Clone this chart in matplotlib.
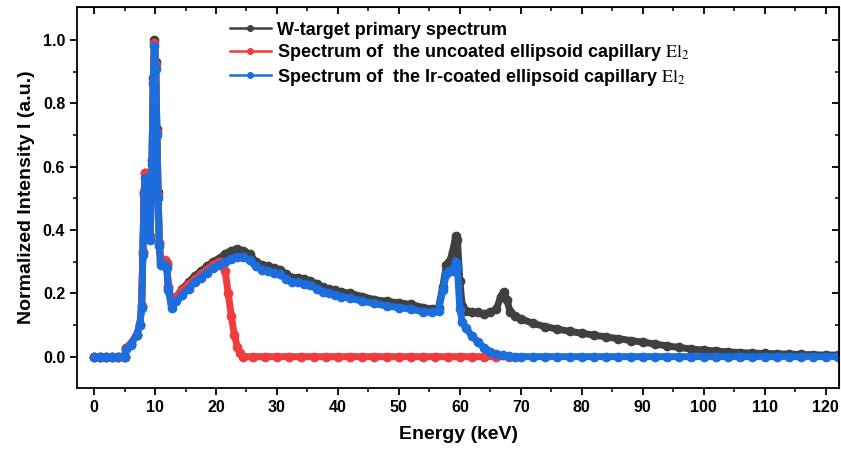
import matplotlib.pyplot as plt
from matplotlib.lines import Line2D

plt.rcParams['font.family'] = ['Liberation Sans', 'DejaVu Sans']
plt.rcParams['mathtext.fontset'] = 'stix'

# W-target primary spectrum
e_w = [0, 1, 2, 3, 4, 5, 5.2, 6, 7, 7.5,
       7.8, 8.0, 8.2, 8.4, 8.6, 8.9, 9.2, 9.5, 9.7, 9.9,
       10.1, 10.3, 10.5, 10.7, 10.9, 11.2, 11.6, 11.9, 12.2, 12.7,
       13.5, 14.5, 15.5, 16.5, 17.5, 18.5, 19.5, 20.5, 21.5, 22.5,
       23.5, 24.5, 25.5, 26.5, 27.5, 28.5, 29.5, 30.5, 31.5, 32.5,
       33.5, 34.5, 35.5, 36.5, 37.5, 38.5, 39.5, 40.5, 42, 44,
       46, 48, 50, 52, 54, 55.5, 56.5, 57.2, 57.8, 58.3,
       58.8, 59.3, 59.6, 60.0, 60.4, 61, 62, 63, 64, 65,
       66, 66.7, 67.2, 67.7, 68.3, 69, 70, 72, 74, 76,
       78, 80, 82, 84, 86, 88, 90, 92, 94, 96,
       98, 100, 102, 104, 106, 108, 110, 112, 114, 116,
       118, 120, 122]
i_w = [0, 0, 0, 0, 0, 0, 0.026, 0.04, 0.07, 0.10,
       0.16, 0.33, 0.52, 0.58, 0.55, 0.45, 0.38, 0.62, 0.88, 1.0,
       0.93, 0.72, 0.52, 0.36, 0.30, 0.30, 0.30, 0.29, 0.22, 0.17,
       0.19, 0.215, 0.235, 0.255, 0.27, 0.285, 0.30, 0.31, 0.325, 0.335,
       0.34, 0.335, 0.325, 0.30, 0.29, 0.285, 0.28, 0.275, 0.26, 0.25,
       0.25, 0.245, 0.24, 0.23, 0.22, 0.215, 0.21, 0.205, 0.20, 0.19,
       0.18, 0.175, 0.17, 0.165, 0.155, 0.15, 0.155, 0.22, 0.29, 0.30,
       0.33, 0.38, 0.37, 0.24, 0.16, 0.145, 0.14, 0.14, 0.135, 0.14,
       0.15, 0.19, 0.205, 0.18, 0.14, 0.13, 0.12, 0.105, 0.095, 0.087,
       0.08, 0.074, 0.068, 0.062, 0.057, 0.051, 0.046, 0.04, 0.034, 0.029,
       0.024, 0.021, 0.018, 0.015, 0.013, 0.011, 0.01, 0.009, 0.008, 0.007,
       0.006, 0.005, 0.005]

# uncoated ellipsoid capillary El2
e_un = [0, 1, 2, 3, 4, 5, 5.2, 6, 7, 7.5,
        7.8, 8.0, 8.2, 8.4, 8.6, 8.9, 9.2, 9.5, 9.7, 9.9,
        10.1, 10.3, 10.5, 10.7, 10.9, 11.2, 11.6, 11.9, 12.2, 12.7,
        13.5, 14.5, 15.5, 16.5, 17.5, 18.5, 19.5, 20.5, 21.0, 21.5,
        22.0, 22.5, 23.0, 23.5, 24.0, 24.5, 26, 28, 30, 32,
        34, 36, 38, 40, 42, 44, 46, 48, 50, 52,
        54, 56, 58, 60, 62, 64, 66, 68]
i_un = [0, 0, 0, 0, 0, 0, 0.026, 0.04, 0.07, 0.10,
        0.16, 0.33, 0.52, 0.58, 0.55, 0.45, 0.38, 0.62, 0.87, 0.99,
        0.92, 0.71, 0.51, 0.36, 0.305, 0.305, 0.305, 0.295, 0.22, 0.17,
        0.19, 0.21, 0.23, 0.245, 0.26, 0.275, 0.29, 0.30, 0.30, 0.27,
        0.20, 0.13, 0.07, 0.03, 0.01, 0, 0, 0, 0, 0,
        0, 0, 0, 0, 0, 0, 0, 0, 0, 0,
        0, 0, 0, 0, 0, 0, 0, 0]

# Ir-coated ellipsoid capillary El2
e_ir = [0, 1, 2, 3, 4, 5, 5.2, 6, 7, 7.5,
        7.8, 8.0, 8.2, 8.4, 8.6, 8.9, 9.2, 9.5, 9.7, 9.9,
        10.1, 10.3, 10.5, 10.7, 10.9, 11.2, 11.6, 11.9, 12.2, 12.7,
        13.5, 14.5, 15.5, 16.5, 17.5, 18.5, 19.5, 20.5, 21.5, 22.5,
        23.5, 24.5, 25.5, 26.5, 27.5, 28.5, 29.5, 30.5, 31.5, 32.5,
        33.5, 34.5, 35.5, 36.5, 37.5, 38.5, 39.5, 40.5, 42, 44,
        46, 48, 50, 52, 54, 55.5, 56.5, 57.2, 57.8, 58.3,
        58.8, 59.3, 59.6, 60.0, 60.4, 61, 62, 63, 64, 65,
        66, 67, 68, 69, 70, 72, 74, 76, 78, 80,
        82, 84, 86, 88, 90, 92, 94, 96, 98, 100,
        102, 104, 106, 108, 110, 112, 114, 116, 118, 120,
        122]
i_ir = [0, 0, 0, 0, 0, 0, 0.025, 0.038, 0.068, 0.10,
        0.155, 0.32, 0.51, 0.565, 0.54, 0.44, 0.37, 0.61, 0.86, 0.98,
        0.91, 0.70, 0.50, 0.35, 0.29, 0.29, 0.29, 0.28, 0.21, 0.155,
        0.175, 0.195, 0.215, 0.235, 0.25, 0.265, 0.28, 0.29, 0.30, 0.31,
        0.315, 0.315, 0.305, 0.285, 0.275, 0.27, 0.265, 0.26, 0.245, 0.235,
        0.235, 0.23, 0.225, 0.215, 0.205, 0.20, 0.195, 0.19, 0.185, 0.175,
        0.168, 0.16, 0.155, 0.15, 0.142, 0.14, 0.145, 0.21, 0.26, 0.27,
        0.27, 0.30, 0.28, 0.15, 0.11, 0.09, 0.065, 0.045, 0.028, 0.015,
        0.008, 0.004, 0.002, 0, 0, 0, 0, 0, 0, 0,
        0, 0, 0, 0, 0, 0, 0, 0, 0, 0,
        0, 0, 0, 0, 0, 0, 0, 0, 0, 0,
        0]

labels = ['W-target primary spectrum',
          r'Spectrum of  the uncoated ellipsoid capillary $\mathrm{El}_2$',
          r'Spectrum of  the Ir-coated ellipsoid capillary $\mathrm{El}_2$']
colors = ['#404040', '#f03c3c', '#1c6edc']

fig = plt.figure(figsize=(8.41, 4.59), dpi=100)
ax = fig.add_axes([0.0916, 0.154, 0.906, 0.831])

for e, i, c in zip([e_w, e_un, e_ir], [i_w, i_un, i_ir], colors):
    ax.plot(e, i, color=c, lw=5, marker='o', ms=6, solid_capstyle='round',
            solid_joinstyle='round')

ax.set_xlim(-2.8, 122.2)
ax.set_ylim(-0.1, 1.105)
ax.set_xticks(range(0, 121, 10))
ax.set_xticks(range(5, 121, 10), minor=True)
ax.set_yticks([0, 0.2, 0.4, 0.6, 0.8, 1.0])
ax.set_yticks([0.1, 0.3, 0.5, 0.7, 0.9], minor=True)
ax.tick_params(which='major', direction='out', length=5, width=1.3, labelsize=11.5)
ax.tick_params(which='minor', direction='out', length=3, width=1.1)
for lab in ax.get_xticklabels() + ax.get_yticklabels():
    lab.set_fontweight('bold')
for s in ax.spines.values():
    s.set_linewidth(1.3)

top = ax.secondary_xaxis('top')
top.set_xticks(range(0, 121, 10))
top.set_xticks(range(5, 121, 10), minor=True)
top.tick_params(which='both', direction='in', labeltop=False)
top.tick_params(which='major', length=5, width=1.3)
top.tick_params(which='minor', length=3, width=1.1)
right = ax.secondary_yaxis('right')
right.set_yticks([0, 0.2, 0.4, 0.6, 0.8, 1.0])
right.set_yticks([0.1, 0.3, 0.5, 0.7, 0.9], minor=True)
right.tick_params(which='both', direction='in', labelright=False)
right.tick_params(which='major', length=5, width=1.3)
right.tick_params(which='minor', length=3, width=1.1)

ax.set_xlabel('Energy (keV)', fontsize=14, fontweight='bold', labelpad=8)
ax.set_ylabel('Normalized Intensity I (a.u.)', fontsize=14, fontweight='bold', labelpad=6)

handles = [Line2D([], [], color=c, lw=1.8, marker='o', ms=4) for c in colors]
ax.legend(handles, labels, loc='upper left', bbox_to_anchor=(0.186, 0.99), frameon=False,
          prop={'weight': 'bold', 'size': 13}, handlelength=2.3, handletextpad=0.3,
          labelspacing=0.2, borderaxespad=0.2)

fig.savefig('out.png', dpi=100)
